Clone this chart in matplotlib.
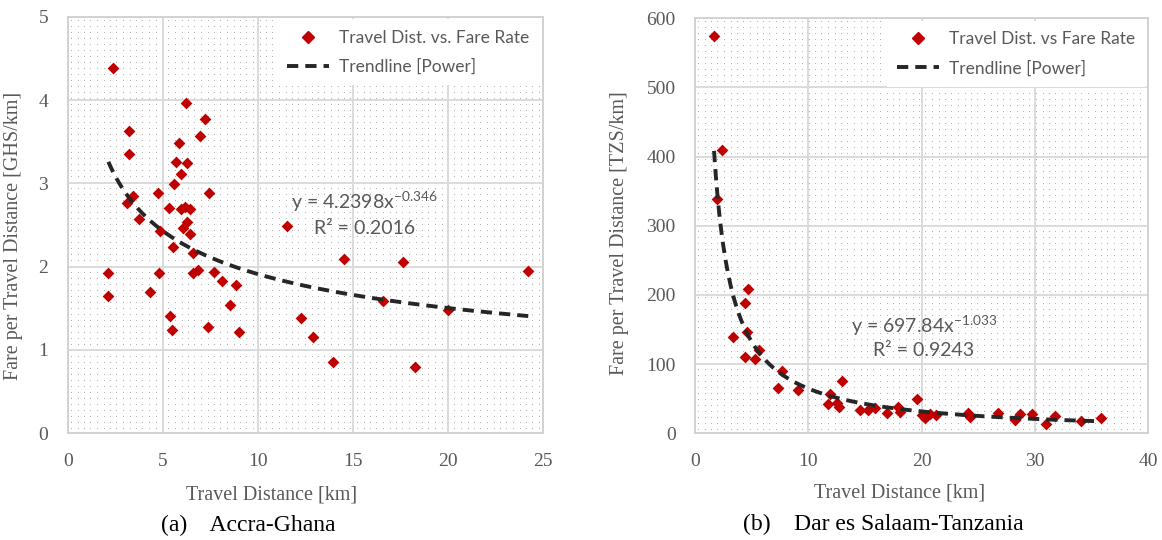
import numpy as np
import matplotlib
matplotlib.use("Agg")
import matplotlib.pyplot as plt
from matplotlib.lines import Line2D

# ---------------- data ----------------
accra_dist = [2.40, 6.21, 7.24, 6.96, 3.24, 5.84, 3.24, 5.68, 6.29, 5.98, 5.62, 4.75, 3.42, 7.44,
              3.10, 5.35, 5.95, 6.17, 6.44, 3.74, 11.53, 6.28, 6.05, 6.44, 4.86, 5.56, 6.61, 2.14,
              4.82, 6.61, 6.87, 7.70, 8.14, 8.86, 2.14, 4.33, 8.54, 5.38, 5.49, 7.40, 9.02, 12.28,
              12.93, 13.95, 14.54, 17.63, 24.24, 16.61, 20.03, 18.30]
accra_fare = [4.39, 3.97, 3.77, 3.57, 3.63, 3.48, 3.35, 3.26, 3.24, 3.11, 2.99, 2.89, 2.85, 2.88,
              2.76, 2.71, 2.69, 2.72, 2.69, 2.57, 2.49, 2.54, 2.46, 2.39, 2.43, 2.23, 2.16, 1.92,
              1.92, 1.92, 1.96, 1.93, 1.83, 1.78, 1.65, 1.70, 1.54, 1.41, 1.24, 1.27, 1.22, 1.38,
              1.15, 0.86, 2.09, 2.05, 1.95, 1.59, 1.48, 0.79]
accra_coef, accra_exp = 4.2398, -0.346

dar_dist = [1.68, 2.38, 1.97, 4.71, 4.41, 4.62, 3.38, 5.65, 4.41, 5.29, 7.70, 7.35, 9.12, 12.94,
            11.91, 11.76, 12.56, 12.74, 14.56, 15.3, 15.9, 16.97, 17.94, 18.09, 19.62, 20.0, 20.3,
            20.7, 21.27, 24.1, 24.26, 26.7, 28.2, 28.7, 29.7, 31.0, 31.8, 34.1, 35.8]
dar_fare = [574, 409, 339, 209, 189, 147, 139, 121, 110, 108, 90, 66, 62, 75,
            57, 43, 44, 37.5, 33, 34, 36, 29, 38, 31, 49, 26, 22,
            28, 26, 29, 23, 30, 19, 28, 28, 14, 25, 18, 22]
dar_coef, dar_exp = 697.84, -1.033

accra_xticks = [0, 5, 10, 15, 20, 25]
accra_yticks = [0, 1, 2, 3, 4, 5]
dar_xticks = [0, 10, 20, 30, 40]
dar_yticks = [0, 100, 200, 300, 400, 500, 600]

# ---------------- style ----------------
plt.rcParams['mathtext.fontset'] = 'custom'
plt.rcParams['mathtext.rm'] = 'Lato'
plt.rcParams['mathtext.it'] = 'Lato'
SERIF = 'Liberation Serif'
SANS = 'Lato'
GRAY = '#595959'
RED = '#c00000'
LINE = '#262626'

fig = plt.figure(figsize=(11.62, 5.40), dpi=100)
W, H = 1162, 540


def add_dots(l, t, r, b, sx=6.5, sy=6.0):
    """Excel-like 5% dotted pattern fill, drawn pixel-exact behind the axes."""
    x0, x1 = int(round(l)), int(round(r))
    y0, y1 = int(round(t)), int(round(b))
    w, h = x1 - x0, y1 - y0
    arr = np.zeros((h, w, 4))
    cols = np.round(np.arange(3, w - 2, sx)).astype(int)
    rows = np.round(np.arange(3, h - 2, sy)).astype(int)
    rr, cc = np.meshgrid(rows, cols, indexing='ij')
    arr[rr, cc, :3] = 0.70
    arr[rr, cc, 3] = 1.0
    fig.figimage(arr, xo=x0, yo=H - y1, zorder=-1, origin='upper')


def make_panel(rect_px, dist, fare, coef, expo, xticks, yticks, ylabel, leg_label,
               eq_xy, r2_xy, eq_text, r2_text, xlab_pos, ylab_pos):
    l, t, r, b = rect_px
    add_dots(l, t, r, b)
    ax = fig.add_axes([l / W, 1 - b / H, (r - l) / W, (b - t) / H])
    ax.patch.set_facecolor('none')
    ax.set_xlim(xticks[0], xticks[-1])
    ax.set_ylim(yticks[0], yticks[-1])
    ax.set_xticks(xticks)
    ax.set_yticks(yticks)
    ax.grid(True, color='#d9d9d9', linewidth=1.3, zorder=1)
    ax.set_axisbelow(True)
    for s in ax.spines.values():
        s.set_color('#d0d0d0')
        s.set_linewidth(1.3)
    ax.tick_params(length=0, labelsize=14, labelcolor=GRAY, pad=14)
    for lab in ax.get_xticklabels() + ax.get_yticklabels():
        lab.set_fontfamily(SERIF)

    ax.scatter(dist, fare, marker='D', s=36, color=RED, linewidths=0, zorder=3)
    xs = np.linspace(min(dist), max(dist), 300)
    ax.plot(xs, coef * xs ** expo, color=LINE, lw=2.8, dashes=(2.9, 1.8), zorder=4)

    ax.set_xlabel('Travel Distance [km]', fontsize=14.5, color=GRAY, family=SERIF)
    ax.set_ylabel(ylabel, fontsize=14.5, color=GRAY, family=SERIF)
    ax.xaxis.set_label_coords(*xlab_pos)
    ax.yaxis.set_label_coords(*ylab_pos)

    handles = [Line2D([], [], marker='D', markersize=6, color=RED, lw=0),
               Line2D([], [], color=LINE, lw=2.8, dashes=(2.9, 1.8))]
    leg = ax.legend(handles, [leg_label, 'Trendline [Power]'], loc='upper right',
                    prop={'family': SANS, 'size': 12.5}, frameon=True, fancybox=False,
                    framealpha=1, facecolor='white', edgecolor='none',
                    borderaxespad=0.15, handlelength=2.4, handletextpad=0.6,
                    borderpad=0.6, labelspacing=0.75)
    for txt in leg.get_texts():
        txt.set_color(GRAY)
    leg.set_zorder(5)

    ax.text(*eq_xy, eq_text, ha='center', va='center', fontsize=14, color=GRAY,
            family=SANS, zorder=6)
    ax.text(*r2_xy, r2_text, ha='center', va='center', fontsize=14, color=GRAY,
            family=SANS, zorder=6)
    return ax


make_panel((67.7, 16.7, 542.7, 433.3), accra_dist, accra_fare, accra_coef, accra_exp,
           accra_xticks, accra_yticks, 'Fare per Travel Distance [GHS/km]',
           'Travel Dist. vs. Fare Rate',
           (15.6, 2.78), (15.6, 2.46),
           'y = 4.2398x$^{\\mathregular{-0.346}}$', 'R² = 0.2016',
           (0.43, -0.125), (-0.094, 0.474))

make_panel((695, 18.3, 1148.3, 433.3), dar_dist, dar_fare, dar_coef, dar_exp,
           dar_xticks, dar_yticks, 'Fare per Travel Distance [TZS/km]',
           'Travel Dist. vs Fare Rate',
           (20.2, 156), (20.2, 120),
           'y = 697.84x$^{\\mathregular{-1.033}}$', 'R² = 0.9243',
           (0.452, -0.12), (-0.146, 0.483))

fig.text(248 / W, 1 - 525 / H, '(a)    Accra-Ghana', ha='center', va='center',
         fontsize=17, family=SERIF, color='black')
fig.text(883 / W, 1 - 524 / H, '(b)    Dar es Salaam-Tanzania', ha='center', va='center',
         fontsize=17, family=SERIF, color='black')

fig.savefig('out.png', dpi=100)
